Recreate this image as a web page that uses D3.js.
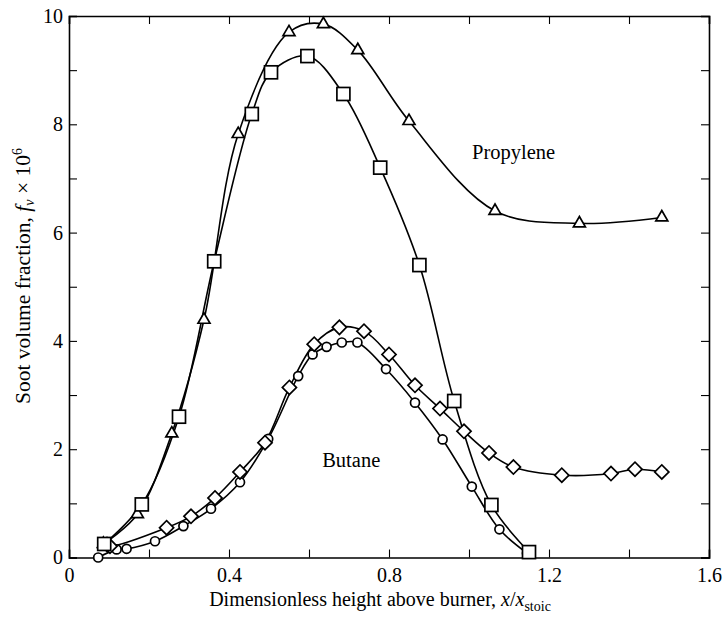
<!DOCTYPE html>
<html>
<head>
<meta charset="utf-8">
<script src="https://cdn.jsdelivr.net/npm/d3@7"></script>
<style>
  html, body { margin: 0; padding: 0; background: #fff; }
  svg { display: block; }
  text { font-family: "Liberation Serif", "DejaVu Serif", serif; fill: #000; }
</style>
</head>
<body>
<svg id="chart" width="724" height="617"></svg>
<script>
// ---- Data ----
const propyleneTriangleX = [0.086, 0.171, 0.257, 0.3375, 0.423, 0.55, 0.636, 0.722, 0.85, 1.065, 1.276, 1.482];
const propyleneTriangleY = [0.25, 0.80, 2.29, 4.39, 7.82, 9.70, 9.85, 9.37, 8.06, 6.40, 6.17, 6.28];

const propyleneSquareX = [0.088, 0.182, 0.275, 0.363, 0.457, 0.505, 0.596, 0.686, 0.778, 0.876, 0.963, 1.056, 1.15];
const propyleneSquareY = [0.25, 0.98, 2.60, 5.47, 8.19, 8.96, 9.26, 8.56, 7.20, 5.40, 2.89, 0.97, 0.10];

const butaneDiamondX = [0.095, 0.1025, 0.244, 0.305, 0.365, 0.4275, 0.49, 0.551, 0.613, 0.676, 0.7375, 0.80, 0.865, 0.9275, 0.9875, 1.05, 1.111, 1.232, 1.355, 1.415, 1.482];
const butaneDiamondY = [0.24, 0.21, 0.55, 0.76, 1.10, 1.58, 2.12, 3.14, 3.94, 4.25, 4.18, 3.75, 3.18, 2.75, 2.33, 1.93, 1.67, 1.52, 1.55, 1.63, 1.58];

const butaneCircleX = [0.073, 0.119, 0.144, 0.215, 0.286, 0.355, 0.4275, 0.498, 0.573, 0.609, 0.644, 0.682, 0.721, 0.7925, 0.865, 0.934, 1.007, 1.076, 1.145];
const butaneCircleY = [0.0, 0.15, 0.16, 0.30, 0.58, 0.90, 1.39, 2.19, 3.35, 3.75, 3.89, 3.97, 3.97, 3.48, 2.86, 2.18, 1.31, 0.52, 0.08];

const xTicks = [0, 0.2, 0.4, 0.6, 0.8, 1.0, 1.2, 1.4, 1.6];
const xTickLabels = ["0", "", "0.4", "", "0.8", "", "1.2", "", "1.6"];
const yTicks = [0, 1, 2, 3, 4, 5, 6, 7, 8, 9, 10];
const yTickLabels = ["0", "", "2", "", "4", "", "6", "", "8", "", "10"];

const seriesLabels = ["Propylene", "Butane"];

// ---- Layout ----
const svg = d3.select("#chart");
const mLeft = 69, mRight = 709, mTop = 16, mBottom = 557.5;

const x = d3.scaleLinear().domain([0, 1.6]).range([mLeft, mRight]);
const y = d3.scaleLinear().domain([0, 10]).range([mBottom, mTop]);

const tickLen = 8;
const tickFont = 20;
const labelFont = 20.5;

// Axes (ticks pointing inward)
const xBottom = d3.axisBottom(x).tickValues(xTicks).tickSize(-tickLen).tickPadding(10)
  .tickFormat((d, i) => xTickLabels[i]);
const xTopAxis = d3.axisTop(x).tickValues(xTicks).tickSize(-tickLen).tickFormat("");
const yLeft = d3.axisLeft(y).tickValues(yTicks).tickSize(-tickLen).tickPadding(6)
  .tickFormat((d, i) => yTickLabels[i]);
const yRightAxis = d3.axisRight(y).tickValues(yTicks).tickSize(-tickLen).tickFormat("");

function styleAxis(g) {
  g.select(".domain").attr("stroke", "#000").attr("stroke-width", 1.6);
  g.selectAll(".tick line").attr("stroke", "#000").attr("stroke-width", 1.1);
  g.selectAll(".tick text").style("font-family", "'Liberation Serif', serif").style("font-size", tickFont + "px").attr("fill", "#000");
}

svg.append("g").attr("transform", `translate(0,${mBottom})`).call(xBottom).call(styleAxis);
svg.append("g").attr("transform", `translate(0,${mTop})`).call(xTopAxis).call(styleAxis);
svg.append("g").attr("transform", `translate(${mLeft},0)`).call(yLeft).call(styleAxis);
svg.append("g").attr("transform", `translate(${mRight},0)`).call(yRightAxis).call(styleAxis);

// ---- Lines ----
const line = d3.line()
  .x(d => x(d[0]))
  .y(d => y(d[1]))
  .curve(d3.curveCatmullRom.alpha(0.5));

const zip = (xs, ys) => xs.map((v, i) => [v, ys[i]]);
const triData = zip(propyleneTriangleX, propyleneTriangleY);
const sqData = zip(propyleneSquareX, propyleneSquareY);
const diaData = zip(butaneDiamondX, butaneDiamondY);
const cirData = zip(butaneCircleX, butaneCircleY);

const lineG = svg.append("g").attr("fill", "none").attr("stroke", "#000").attr("stroke-width", 1.6);
[triData, sqData, diaData, cirData].forEach(data => {
  lineG.append("path").attr("d", line(data));
});

// ---- Markers ----
const markG = svg.append("g").attr("fill", "#fff").attr("stroke", "#000").attr("stroke-width", 1.7);

markG.selectAll(".cir").data(cirData).enter().append("circle")
  .attr("cx", d => x(d[0])).attr("cy", d => y(d[1])).attr("r", 4.5);

markG.selectAll(".dia").data(diaData).enter().append("path")
  .attr("d", d3.symbol().type(d3.symbolSquare).size(100))
  .attr("transform", d => `translate(${x(d[0])},${y(d[1])}) rotate(45)`);

markG.selectAll(".tri").data(triData).enter().append("path")
  .attr("d", d3.symbol().type(d3.symbolTriangle).size(62))
  .attr("transform", d => `translate(${x(d[0])},${y(d[1])})`);

markG.selectAll(".sq").data(sqData).enter().append("rect")
  .attr("x", d => x(d[0]) - 6.5).attr("y", d => y(d[1]) - 6.5)
  .attr("width", 13).attr("height", 13);

// ---- Series labels ----
svg.append("text").attr("x", x(1.0075)).attr("y", y(7.36)).attr("font-size", labelFont).text(seriesLabels[0]);
svg.append("text").attr("x", x(0.633)).attr("y", y(1.67)).attr("font-size", labelFont).text(seriesLabels[1]);

// ---- Axis titles ----
const xt = svg.append("text").attr("x", 380).attr("y", 606).attr("text-anchor", "middle").attr("font-size", 20);
xt.append("tspan").text("Dimensionless height above burner, ");
xt.append("tspan").attr("font-style", "italic").text("x");
xt.append("tspan").text("/");
xt.append("tspan").attr("font-style", "italic").text("x");
xt.append("tspan").attr("font-size", 14).attr("dy", 5).text("stoic");

const yt = svg.append("text").attr("transform", "translate(30,276) rotate(-90)").attr("text-anchor", "middle").attr("font-size", 21.5);
yt.append("tspan").text("Soot volume fraction, ");
yt.append("tspan").attr("font-style", "italic").text("f");
yt.append("tspan").attr("font-style", "italic").attr("font-size", 14).attr("dy", 4).text("v");
yt.append("tspan").attr("dy", -4).text(" × 10");
yt.append("tspan").attr("font-size", 14).attr("dy", -8).text("6");
</script>
</body>
</html>
